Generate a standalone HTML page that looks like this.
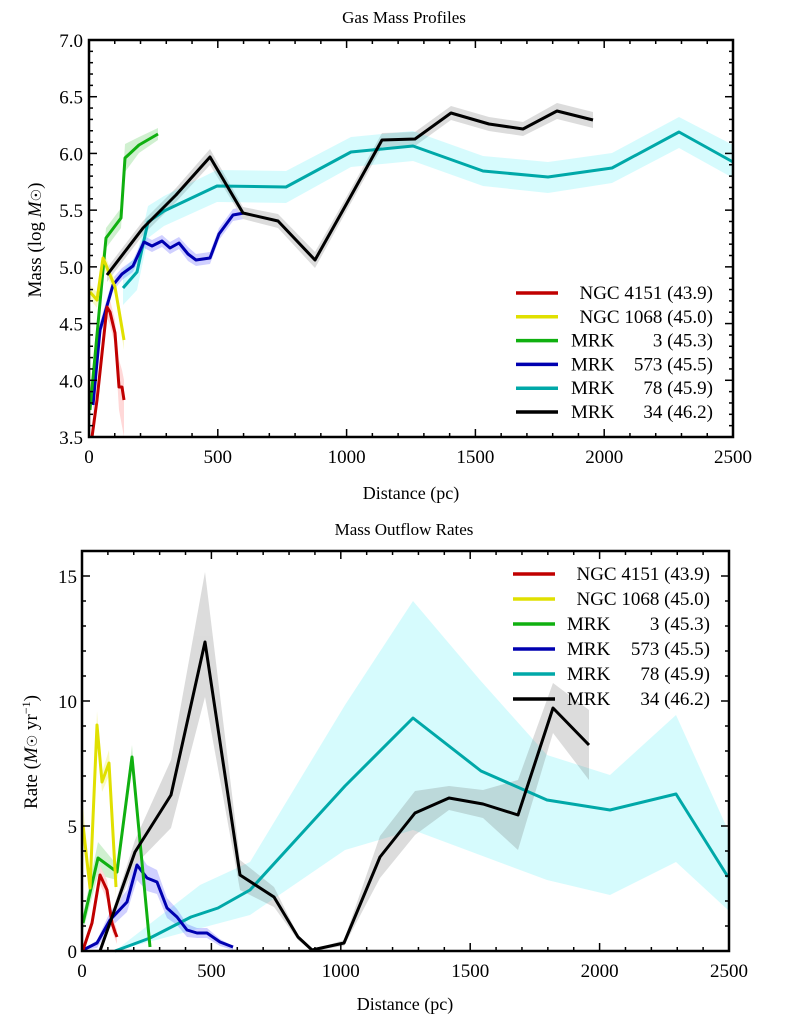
<!DOCTYPE html>
<html><head><meta charset="utf-8"><style>
body{margin:0;background:#fff}
svg{display:block;font-family:"Liberation Serif",serif}
</style></head><body>
<svg id="s" width="808" height="1024" xmlns="http://www.w3.org/2000/svg">
<rect width="808" height="1024" fill="#fff"/>
<g opacity="0.22">
<polygon fill="#3030ff" points="93,395 100,322 113,278 122,268 133,260 144,236 152,240 162,235 170,242 179,237 188,247 196,254 210,252 219,228 233,209 244,207 244,219 233,221 219,240 210,264 196,266 188,261 179,249 170,254 162,247 152,252 144,248 133,272 122,280 113,291 100,338 93,415"/>
<polygon fill="#30c030" points="90,400 106,228 121,208 125,144 139,137 158,128 158,140 139,153 125,172 121,228 106,248 90,420"/>
<polygon fill="#ff5050" points="92,437 97,390 107,297 110,300 115,320 119,360 122,370 124,380 124,437 119,410 115,345 110,325 107,318 97,410"/>
<polygon fill="#e8e800" points="90,285 97,292 103,250 115,280 124,330 124,350 115,295 103,266 97,308 90,299"/>
<polygon fill="#606060" points="107,268 143,221 176,188 210,149 243,207 278,214 315,252 347,196 382,133 415,132 451,106 489,117 523,122 557,103 593,112 593,128 557,119 523,136 489,131 451,120 415,146 382,147 347,210 315,268 278,228 243,219 210,165 176,202 143,235 107,282"/>
</g>
<g opacity="0.16">
<polygon fill="#00e5f0" points="123,270 137,255 148,206 164,196 217,170 286,171 351,137 413,131 483,156 548,162 612,153 679,117 733,145 733,178 679,148 612,183 548,193 483,186 413,161 351,167 286,203 217,202 164,226 148,238 137,290 123,305"/>
</g>
<g fill="none" stroke-width="3" stroke-linejoin="round">
<polyline stroke="#00a8a8" points="123,288 137,272 148,222 164,211 217,186 286,187 351,152 413,146 483,171 548,177 612,168 679,132 733,162"/>
<polyline stroke="#0000b0" points="93,405 100,330 113,285 122,274 133,266 144,242 152,246 162,241 170,248 179,243 188,254 196,260 210,258 219,234 233,215 244,213"/>
<polyline stroke="#10b010" points="90,410 106,238 121,218 125,158 139,145 158,134"/>
<polyline stroke="#e0e000" points="90,292 97,300 103,258 115,287 124,340"/>
<polyline stroke="#c00000" points="92,437 97,400 107,307 110,312 115,333 119,387 122,387 124,400"/>
<polyline stroke="#000" points="107,275 143,228 176,195 210,157 243,213 278,221 315,260 347,203 382,140 415,139 451,113 489,124 523,129 557,111 593,120"/>
</g>
<g opacity="0.16">
<polygon fill="#00e5f0" points="115,951 200,885 250,862 345,705 413,601 480,680 547,755 610,775 676,715 728,830 728,910 676,862 610,895 547,880 413,830 345,850 250,915"/>
</g>
<g opacity="0.22">
<polygon fill="#3030ff" points="83,950 97,940 110,912 127,890 137,850 147,865 157,870 167,898 177,909 187,924 197,928 207,928 220,939 233,946 233,950 220,946 207,938 197,938 187,937 177,925 167,918 157,894 147,891 137,880 127,912 110,928 97,948"/>
<polygon fill="#30c030" points="83,915 98,842 117,865 132,745 150,947 132,770 117,880 98,875 83,931"/>
<polygon fill="#e8e800" points="83,805 90,880 97,711 102,772 109,750 116,875 116,899 109,776 102,792 97,740 90,896 83,845"/>
<polygon fill="#ff5050" points="83,950 92,918 100,866 107,880 112,915 117,930 117,944 112,931 107,900 100,884 92,928"/>
<polygon fill="#606060" points="100,950 135,840 171,760 205,572 240,860 274,887 298,935 312,950 344,940 380,836 415,791 449,786 483,790 518,780 553,683 589,710 589,780 553,733 518,850 483,818 449,810 415,835 380,878 344,946 312,951 298,940 274,907 240,890 205,697 171,828 135,865 100,951"/>
</g>
<g fill="none" stroke-width="3" stroke-linejoin="round">
<polyline stroke="#00a8a8" points="115,951 150,938 191,917 218,908 250,890 345,786 413,718 481,771 547,800 610,810 676,794 728,877"/>
<polyline stroke="#0000b0" points="83,950 97,943 110,920 127,902 137,865 147,878 157,882 167,908 177,917 187,930 197,933 207,933 220,942 233,947"/>
<polyline stroke="#10b010" points="83,923 98,858 117,872 132,757 150,947"/>
<polyline stroke="#e0e000" points="83,825 90,888 97,725 102,782 109,763 116,887"/>
<polyline stroke="#c00000" points="83,950 92,923 100,875 107,890 112,923 115,932 117,937"/>
<polyline stroke="#000" points="100,951 135,852 171,795 205,642 240,875 274,897 298,937 312,950 344,943 380,857 415,813 449,798 483,804 518,815 553,708 589,745"/>
</g>
<g id="ax"></g>
<g fill="#000">
<text x="404" y="23" text-anchor="middle" font-size="17">Gas Mass Profiles</text>
<text x="411" y="499" text-anchor="middle" font-size="18">Distance (pc)</text>
<text x="404" y="535" text-anchor="middle" font-size="17">Mass Outflow Rates</text>
<text x="405" y="1010" text-anchor="middle" font-size="18">Distance (pc)</text>
<text transform="translate(41,240) rotate(-90)" text-anchor="middle" font-size="19">Mass  (log <tspan font-style="italic">M</tspan><tspan font-size="14">☉</tspan>)</text>
<text transform="translate(37,752) rotate(-90)" text-anchor="middle" font-size="19">Rate (<tspan font-style="italic">M</tspan><tspan font-size="14">☉</tspan> yr<tspan dy="-7" font-size="12">−1</tspan><tspan dy="7">)</tspan></text>
</g>
<g id="leg" font-size="19"></g>
</svg>
<script>
var ax=document.getElementById('ax'),h='';
function L(x1,y1,x2,y2,w){h+='<line x1="'+x1+'" y1="'+y1+'" x2="'+x2+'" y2="'+y2+'" stroke="#000" stroke-width="'+(w||1.5)+'"/>';}
function T(x,y,s,a){h+='<text x="'+x+'" y="'+y+'" font-size="19" text-anchor="'+(a||'middle')+'">'+s+'</text>';}
var l=89,r=733,t=40,b=437;
h+='<rect x="'+l+'" y="'+t+'" width="'+(r-l)+'" height="'+(b-t)+'" fill="none" stroke="#000" stroke-width="2.5"/>';
for(var d=0;d<=2500;d+=100){var x=l+d*(r-l)/2500,m=d%500==0;L(x,b,x,b-(m?8:4));L(x,t,x,t+(m?8:4));if(m)T(x,463,d);}
for(var i=0;i<=35;i++){var v=3.5+i*0.1,y=b-i*(b-t)/35,m=i%5==0;L(l,y,l+(m?8:4),y);L(r,y,r-(m?8:4),y);if(m)T(83,y+7,v.toFixed(1),'end');}
l=82;r=729;t=551;b=951;
h+='<rect x="'+l+'" y="'+t+'" width="'+(r-l)+'" height="'+(b-t)+'" fill="none" stroke="#000" stroke-width="2.5"/>';
for(var d=0;d<=2500;d+=100){var x=l+d*(r-l)/2500,m=d%500==0;L(x,b,x,b-(m?8:4));L(x,t,x,t+(m?8:4));if(m)T(x,977,d);}
for(var i=0;i<=15;i++){var y=b-i*25,m=i%5==0;L(l,y,l+(m?8:4),y);L(r,y,r-(m?8:4),y);if(m)T(77,y+7,i,'end');}
ax.innerHTML=h;
var cols=['#c00000','#e0e000','#10b010','#0000b0','#00a8a8','#000'];
var names=[['','NGC 4151 (43.9)'],['','NGC 1068 (45.0)'],['MRK','3 (45.3)'],['MRK','573 (45.5)'],['MRK','78 (45.9)'],['MRK','34 (46.2)']];
var g='';
function leg(x0,y0,dy,tx,te){for(var i=0;i<6;i++){var y=y0+i*dy;g+='<line x1="'+x0+'" y1="'+y+'" x2="'+(x0+42)+'" y2="'+y+'" stroke="'+cols[i]+'" stroke-width="3.5"/>';
g+='<text x="'+tx+'" y="'+(y+6)+'">'+names[i][0]+'</text><text x="'+te+'" y="'+(y+6)+'" text-anchor="end">'+names[i][1]+'</text>';}}
leg(516,293,23.8,571,713);leg(513,574,25,567,710);
document.getElementById('leg').innerHTML=g;
</script>
</body></html>
